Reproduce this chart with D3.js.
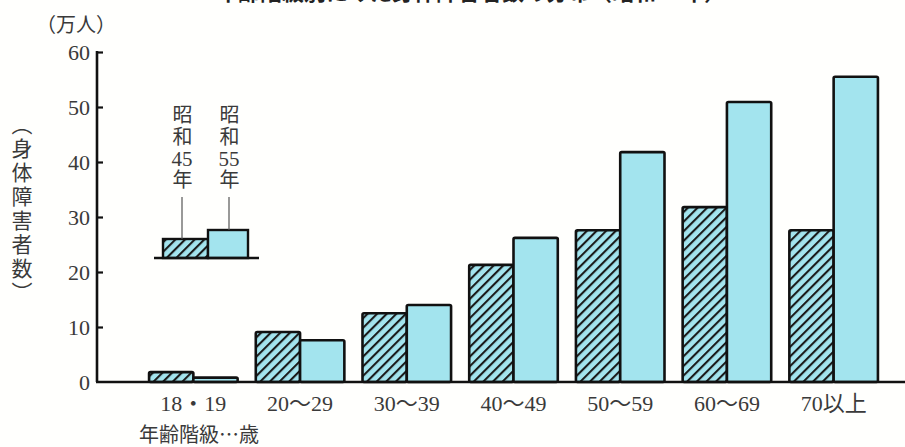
<!DOCTYPE html>
<html><head><meta charset="utf-8">
<script src="https://cdn.jsdelivr.net/npm/d3@7"></script>
<style>
html,body{margin:0;padding:0;background:#fffffd;}
#wrap{position:relative;width:905px;height:447px;overflow:hidden;}
svg{display:block;position:absolute;left:0;top:0;}
.vlab{position:absolute;writing-mode:vertical-rl;font-family:'Noto Sans CJK JP','Noto Sans CJK SC',sans-serif;
  font-size:20px;line-height:20px;letter-spacing:2px;color:#3a3a3a;white-space:nowrap;}
.vlab .tcu{text-combine-upright:all;font-family:'Liberation Serif','DejaVu Serif',serif;font-size:21px;}
</style></head>
<body>
<div id="wrap"><svg id="chart" width="905" height="447"></svg></div>
<script>
const categories = ["18・19", "20～29", "30～39", "40～49", "50～59", "60～69", "70以上"];
const seriesNames = ["昭和45年", "昭和55年"];
const values1970 = [1.8, 9.1, 12.5, 21.3, 27.6, 31.8, 27.6];
const values1980 = [0.8, 7.6, 14.0, 26.2, 41.8, 50.9, 55.5];
const yTicks = [0, 10, 20, 30, 40, 50, 60];
const titleText = "年齢階級別にみた身体障害者数の分布（昭和55年）";
const unitText = "（万人）";
const yTitle = "（身体障害者数）";
const xTitle = "年齢階級…歳";

const svg = d3.select("#chart");
const serif = "'Liberation Serif','DejaVu Serif','Noto Sans CJK JP',serif";
const cjk = "'Noto Sans CJK JP','Noto Sans CJK SC',sans-serif";
const textColor = "#3a3a3a";
const cyan = "#a3e4ee";

const defs = svg.append("defs");
const pat = defs.append("pattern").attr("id","hatch")
  .attr("patternUnits","userSpaceOnUse").attr("width",6.8).attr("height",10)
  .attr("patternTransform","rotate(45)");
pat.append("rect").attr("width",6.8).attr("height",10).attr("fill",cyan);
pat.append("line").attr("x1",1).attr("x2",1).attr("y1",0).attr("y2",10)
  .attr("stroke","#1a1a1a").attr("stroke-width",2.2);

// title (clipped at top like the reference)
svg.append("text").attr("x",471).attr("y",0).attr("text-anchor","middle")
  .attr("font-family",cjk).attr("font-size",22).attr("font-weight",700)
  .attr("fill","#222").text(titleText);

const x0 = d3.scaleBand().domain(categories).range([140, 887]).paddingInner(0.17).paddingOuter(0.085);
const x1 = d3.scaleBand().domain(seriesNames).range([0, x0.bandwidth()]);
const y = d3.scaleLinear().domain([0, 60]).range([382, 52]);

// y axis
const yAxis = d3.axisRight(y).tickValues(yTicks.slice(1)).tickSize(6).tickFormat("");
const ga = svg.append("g").attr("transform","translate(97,0)").call(yAxis);
ga.select(".domain").remove();
ga.selectAll(".tick line").attr("stroke","#111").attr("stroke-width",2.2);
svg.append("line").attr("x1",97).attr("x2",97).attr("y1",y(60)-1).attr("y2",y(0))
  .attr("stroke","#111").attr("stroke-width",2.6);

svg.append("g").selectAll("text").data(yTicks).join("text")
  .attr("x",90).attr("y",d=>y(d)).attr("dy","0.35em").attr("text-anchor","end")
  .attr("font-family",serif).attr("font-size",22).attr("fill",textColor)
  .text(d=>d);

// unit
svg.append("text").attr("x",76).attr("y",25).attr("dy","0.35em").attr("text-anchor","middle")
  .attr("font-family",cjk).attr("font-size",20).attr("fill",textColor).text(unitText);

// y title vertical
svg.append("text").attr("x",22).attr("y",210).attr("text-anchor","middle")
  .attr("font-family",cjk).attr("font-size",21).attr("fill",textColor)
  .style("writing-mode","vertical-rl").style("letter-spacing","3px")
  .text(yTitle);

// bars
const rows = categories.map((c,i)=>({cat:c, vals:[
  {s:seriesNames[0], v:values1970[i]}, {s:seriesNames[1], v:values1980[i]}]}));
const groups = svg.append("g").selectAll("g").data(rows).join("g")
  .attr("transform",d=>`translate(${x0(d.cat)},0)`);
groups.selectAll("rect").data(d=>d.vals).join("rect")
  .attr("x",d=>x1(d.s)).attr("width",x1.bandwidth())
  .attr("y",d=>y(d.v)).attr("height",d=>y(0)-y(d.v))
  .attr("fill",(d,i)=>i===0?"url(#hatch)":cyan)
  .attr("stroke","#111").attr("stroke-width",2.6).attr("rx",1.5);

// baseline
svg.append("line").attr("x1",96).attr("x2",905).attr("y1",y(0)).attr("y2",y(0))
  .attr("stroke","#111").attr("stroke-width",2.6);

// x labels
svg.append("g").selectAll("text").data(categories).join("text")
  .attr("x",d=>x0(d)+x0.bandwidth()/2).attr("y",403).attr("dy","0.35em")
  .attr("text-anchor","middle").attr("font-family",serif).attr("font-size",22)
  .attr("fill",textColor).text(d=>d);

svg.append("text").attr("x",199).attr("y",435).attr("dy","0.35em").attr("text-anchor","middle")
  .attr("font-family",cjk).attr("font-size",20).attr("fill",textColor).text(xTitle);

// legend inset
const lg = svg.append("g");
const lgBase = 258, lgX = 163, lgW = [45, 40], lgH = [19, 28];
lg.append("rect").attr("x",lgX).attr("y",lgBase-lgH[0]).attr("width",lgW[0]).attr("height",lgH[0])
  .attr("fill","url(#hatch)").attr("stroke","#111").attr("stroke-width",2.4);
lg.append("rect").attr("x",lgX+lgW[0]).attr("y",lgBase-lgH[1]).attr("width",lgW[1]).attr("height",lgH[1])
  .attr("fill",cyan).attr("stroke","#111").attr("stroke-width",2.4);
lg.append("line").attr("x1",154).attr("x2",259).attr("y1",lgBase).attr("y2",lgBase)
  .attr("stroke","#111").attr("stroke-width",2.4);
const lgCx = [182, 229];
const wrap = d3.select("#wrap");
lgCx.forEach((cx,i)=>{
  lg.append("line").attr("x1",cx).attr("x2",cx).attr("y1",197).attr("y2",lgBase-lgH[i])
    .attr("stroke","#555").attr("stroke-width",1.2);
  const name = seriesNames[i];
  const d = wrap.append("div").attr("class","vlab")
    .style("left",(cx-10)+"px").style("top","104px");
  d.append("span").text(name.slice(0,2));
  d.append("span").attr("class","tcu").text(name.slice(2,4));
  d.append("span").text(name.slice(4));
});
</script>
</body></html>
